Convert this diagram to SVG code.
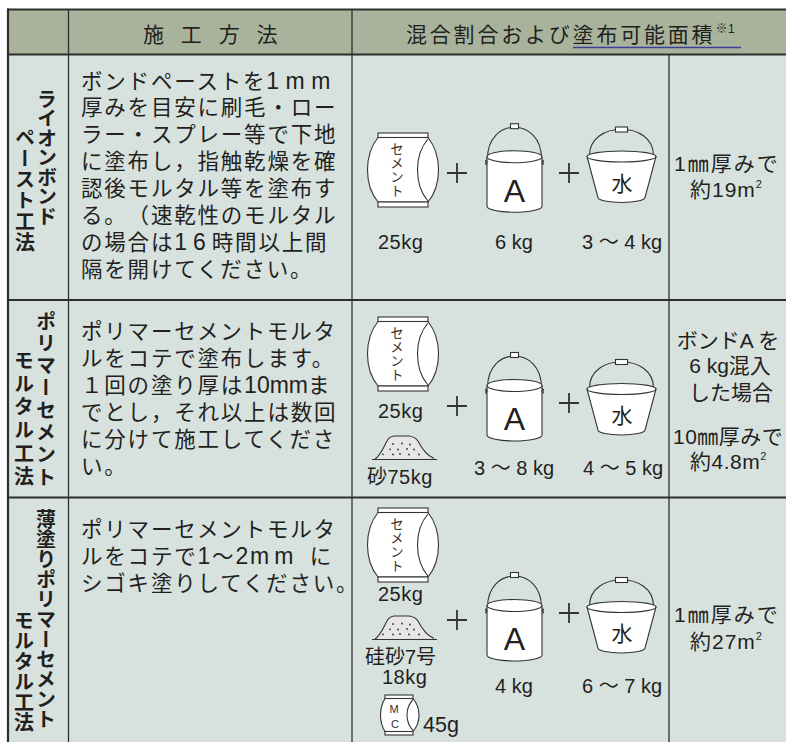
<svg xmlns="http://www.w3.org/2000/svg" width="786" height="742" viewBox="0 0 786 742">
<style>
 text{font-family:"Liberation Sans","Noto Sans CJK JP",sans-serif;fill:#231f20;text-spacing-trim:space-all}
 .hd{font-size:21px}
 .bd{font-size:21.5px;letter-spacing:1.8px}
 .lt{font-size:23px}
 .vt{font-family:"Noto Sans CJK JP",sans-serif;font-size:20px;font-weight:700;writing-mode:vertical-rl}
 .bagt{font-family:"Noto Sans CJK JP",sans-serif;font-size:13.5px;writing-mode:vertical-rl;fill:#333}
 .mc{font-size:11px;fill:#333}
 .lbl{font-size:20px}
 .res{font-size:21px}
 .ln{stroke:#2e2e2e;fill:none}
 .ic{stroke:#333;stroke-width:1.1;fill:#fff}
 .icn{stroke:#333;stroke-width:1.1;fill:none}
 .plus{stroke:#333;stroke-width:1.8;fill:none}
 .dot{fill:#333}
</style>
<defs>
 <g id="bag">
  <path class="ic" d="M0 4.5 C-14 22 -14 52 0 69 L50 69 C64 52 64 22 50 4.5 Z"/>
  <path class="icn" d="M50 6 C36 22 36 52 50 68"/>
  <rect class="ic" x="0" y="0" width="50" height="4.5"/>
  <rect class="ic" x="0" y="69" width="50" height="5"/>
 </g>
 <g id="bucketA">
  <path class="icn" d="M-27 2 C-27 -40 27 -40 27 2"/>
  <path class="ic" d="M-27.5 0 L-27.5 49.5 A27.5 6 0 0 0 27.5 49.5 L27.5 0 Z"/>
  <ellipse class="ic" cx="0" cy="0" rx="27.5" ry="6"/>
  <rect class="ic" x="-4" y="-33" width="8" height="5"/>
  <path class="icn" d="M-27.5 3 q-3 1.2 0 2.5 q-3 1.2 0 2.5 M27.5 3 q3 1.2 0 2.5 q3 1.2 0 2.5"/>
 </g>
 <g id="bucketW">
  <path class="icn" d="M-32 -1 C-32 -36 32 -36 32 -1"/>
  <path class="ic" d="M-34.5 0 L-23.5 41 A23.5 5 0 0 0 23.5 41 L34.5 0 Z"/>
  <ellipse class="ic" cx="0" cy="0" rx="34.5" ry="5.5"/>
  <rect class="ic" x="-6" y="-29.5" width="12" height="5"/>
 </g>
 <g id="sand">
  <path d="M375 459 C381 455 384 446 387 441 C389 437 391 436.5 394 436 L409 436 C413 436.5 416 438 418 441 C421 447 426 455 434 458.5" fill="#e6e6e6" stroke="#333" stroke-width="1.1"/>
  <line x1="372" y1="459.5" x2="437" y2="459.5" stroke="#333" stroke-width="1.1"/>
  <g class="dot">
   <circle cx="393" cy="444" r="0.9"/><circle cx="402" cy="443.5" r="0.9"/><circle cx="410" cy="444.5" r="0.9"/>
   <circle cx="390" cy="449.3" r="0.9"/><circle cx="398" cy="449.5" r="0.9"/><circle cx="407" cy="449" r="0.9"/><circle cx="414" cy="449.5" r="0.9"/>
   <circle cx="383" cy="454.3" r="0.9"/><circle cx="393" cy="454.5" r="0.9"/><circle cx="400" cy="454" r="0.9"/><circle cx="409" cy="454.5" r="0.9"/><circle cx="419" cy="454.5" r="0.9"/>
  </g>
 </g>
</defs>

<rect x="0" y="0" width="786" height="742" fill="#fff"/>

<g id="table">
 <rect x="8" y="9.5" width="790" height="45" fill="#a9b39b"/>
 <rect x="8" y="54.5" width="790" height="700" fill="#d7e2df"/>
 <g class="ln">
  <line x1="7" y1="9.5" x2="786" y2="9.5" stroke-width="2.2"/>
  <line x1="8" y1="8.5" x2="8" y2="742" stroke-width="2.2"/>
  <line x1="8" y1="54.5" x2="786" y2="54.5" stroke-width="2"/>
  <line x1="8" y1="300" x2="786" y2="300" stroke-width="1.8"/>
  <line x1="8" y1="497.5" x2="786" y2="497.5" stroke-width="1.8"/>
  <line x1="68.5" y1="9.5" x2="68.5" y2="742" stroke-width="1.3"/>
  <line x1="352" y1="9.5" x2="352" y2="742" stroke-width="1.3"/>
  <line x1="669" y1="54.5" x2="669" y2="742" stroke-width="1.3"/>
 </g>
</g>

<g id="header">
 <text class="hd" x="143" y="42" letter-spacing="5.5">施 工 方 法</text>
 <text class="hd" x="406" y="42" letter-spacing="2.8">混合割合および塗布可能面積<tspan font-size="12" dy="-9" letter-spacing="0.5">※1</tspan></text>
 <line x1="573" y1="47.5" x2="741" y2="47.5" stroke="#3b3e9b" stroke-width="1.6"/>
</g>

<g id="row1">
 <text class="vt" x="47" y="89" letter-spacing="-0.5">ライオンボンド</text>
 <text class="vt" x="25" y="127" letter-spacing="1">ペースト工法</text>
 <text class="bd" x="81" y="88.5">ボンドペーストを<tspan class="lt" letter-spacing="6.5">1mm</tspan></text>
 <text class="bd" x="81" y="115.4">厚みを目安に刷毛・ロー</text>
 <text class="bd" x="81" y="142.3">ラー・スプレー等で下地</text>
 <text class="bd" x="81" y="169.2">に塗布し，指触乾燥を確</text>
 <text class="bd" x="81" y="196.1">認後モルタル等を塗布す</text>
 <text class="bd" x="81" y="223">る。（速乾性のモルタル</text>
 <text class="bd" x="81" y="249.9">の場合は<tspan class="lt" letter-spacing="6">16</tspan>時間以上間</text>
 <text class="bd" x="81" y="276.8">隔を開けてください。</text>
 <use href="#bag" x="378" y="133"/>
 <text class="bagt" x="397" y="142" letter-spacing="0.5">セメント</text>
 <path class="plus" d="M447 173 h20 M457 163 v20"/>
 <use href="#bucketA" x="514.5" y="156.7"/>
 <text x="514.5" y="201.5" font-size="32" text-anchor="middle">A</text>
 <path class="plus" d="M559 173 h20 M569 163 v20"/>
 <use href="#bucketW" x="621.5" y="156.5"/>
 <text x="622" y="191" font-size="21" text-anchor="middle">水</text>
 <text class="lbl" x="378" y="249" letter-spacing="0.5">25kg</text>
 <text class="lbl" x="495" y="249">6 kg</text>
 <text class="lbl" x="582" y="249">3 ～ 4 kg</text>
 <text class="res" x="674" y="171" letter-spacing="2">1㎜厚みで</text>
 <text class="res" x="690" y="197" letter-spacing="1">約19m<tspan font-size="11" dy="-9">2</tspan></text>
</g>

<g id="row2">
 <text class="vt" x="46" y="311" letter-spacing="2.3">ポリマーセメント</text>
 <text class="vt" x="24" y="350" letter-spacing="3.3">モルタル工法</text>
 <text class="bd" x="81" y="338.5">ポリマーセメントモルタ</text>
 <text class="bd" x="81" y="365.5">ルをコテで塗布します。</text>
 <text class="bd" x="81" y="392.5">１回の塗り厚は<tspan class="lt" letter-spacing="0">10mm</tspan>ま</text>
 <text class="bd" x="81" y="419.5">でとし，それ以上は数回</text>
 <text class="bd" x="81" y="446.5">に分けて施工してくださ</text>
 <text class="bd" x="81" y="473.5">い。</text>
 <use href="#bag" x="378" y="317"/>
 <text class="bagt" x="397" y="326" letter-spacing="0.5">セメント</text>
 <text class="lbl" x="378" y="418" letter-spacing="0.5">25kg</text>
 <use href="#sand"/>
 <text class="lbl" x="367" y="484" letter-spacing="0.5">砂75kg</text>
 <path class="plus" d="M447 406 h20 M457 396 v20"/>
 <use href="#bucketA" x="514.5" y="385.5"/>
 <text x="514.5" y="430" font-size="32" text-anchor="middle">A</text>
 <path class="plus" d="M559 403 h20 M569 393 v20"/>
 <use href="#bucketW" x="621.5" y="389"/>
 <text x="622" y="423" font-size="21" text-anchor="middle">水</text>
 <text class="lbl" x="474" y="475">3 ～ 8 kg</text>
 <text class="lbl" x="583" y="475">4 ～ 5 kg</text>
 <text class="res" x="728" y="348" text-anchor="middle">ボンドA を</text>
 <text class="res" x="730" y="373" text-anchor="middle">6 kg混入</text>
 <text class="res" x="731" y="400" text-anchor="middle">した場合</text>
 <text class="res" x="673" y="444" letter-spacing="0.5">10㎜厚みで</text>
 <text class="res" x="690" y="469" letter-spacing="0.5">約4.8m<tspan font-size="11" dy="-9">2</tspan></text>
</g>

<g id="row3">
 <text class="vt" x="46" y="509">薄塗りポリマーセメント</text>
 <text class="vt" x="24" y="610" letter-spacing="0.5">モルタル工法</text>
 <text class="bd" x="81" y="536.5">ポリマーセメントモルタ</text>
 <text class="bd" x="81" y="563.5">ルをコテで<tspan class="lt">1</tspan>～<tspan class="lt">2</tspan><tspan class="lt" letter-spacing="5">mm </tspan>に</text>
 <text class="bd" x="81" y="590.5">シゴキ塗りしてください。</text>
 <use href="#bag" x="378" y="508"/>
 <text class="bagt" x="397" y="517" letter-spacing="0.5">セメント</text>
 <text class="lbl" x="378" y="601" letter-spacing="0.5">25kg</text>
 <use href="#sand" y="180"/>
 <text class="lbl" x="365" y="664">硅砂7号</text>
 <text class="lbl" x="382" y="684" letter-spacing="0.5">18kg</text>
 <g id="mc">
  <path class="ic" d="M385 698.5 C379 708 379 722 385 731.5 L413 731.5 C421 722 421 708 413 698.5 Z"/>
  <path class="icn" d="M413 699.5 C405 708 405 722 413 730.5"/>
  <rect class="ic" x="385" y="695" width="28" height="3.5"/>
  <rect class="ic" x="385" y="731.5" width="28" height="3.5"/>
  <text class="mc" x="394" y="713" text-anchor="middle">M</text>
  <text class="mc" x="395" y="727.5" text-anchor="middle">C</text>
 </g>
 <text x="423" y="732" font-size="21.5">45g</text>
 <path class="plus" d="M447 620 h20 M457 610 v20"/>
 <use href="#bucketA" x="514.5" y="605.5"/>
 <text x="514.5" y="650" font-size="32" text-anchor="middle">A</text>
 <path class="plus" d="M559 613 h20 M569 603 v20"/>
 <use href="#bucketW" x="621.5" y="607"/>
 <text x="622" y="641" font-size="21" text-anchor="middle">水</text>
 <text class="lbl" x="495" y="693">4 kg</text>
 <text class="lbl" x="582" y="693">6 ～ 7 kg</text>
 <text class="res" x="674" y="622" letter-spacing="2">1㎜厚みで</text>
 <text class="res" x="690" y="649" letter-spacing="1">約27m<tspan font-size="11" dy="-9">2</tspan></text>
</g>
</svg>
